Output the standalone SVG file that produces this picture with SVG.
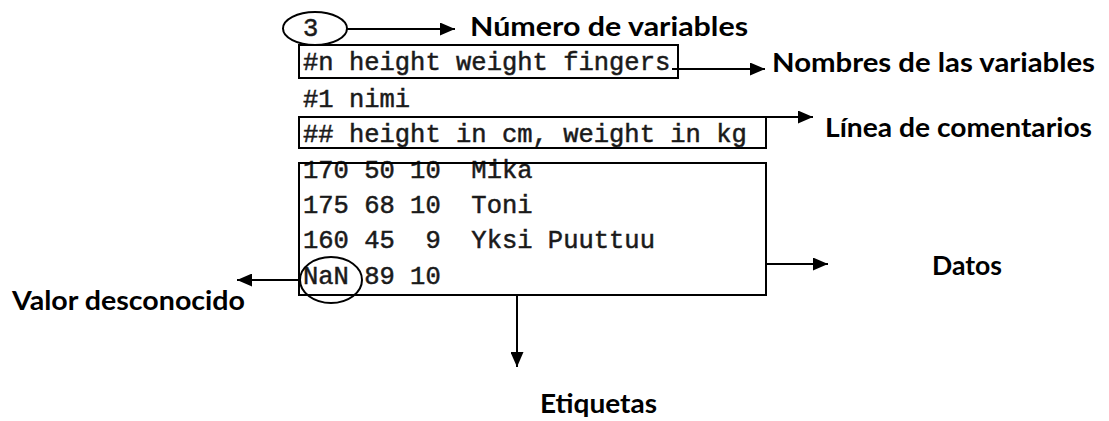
<svg xmlns="http://www.w3.org/2000/svg" width="1109" height="421" viewBox="0 0 1109 421">
<style>
.code{font-family:"Liberation Mono","DejaVu Sans Mono",monospace;font-size:25.5px;fill:#1a1a1a;stroke:#1a1a1a;stroke-width:0.5px;}
.lab{font-family:Lato,"Open Sans","Liberation Sans",sans-serif;font-weight:bold;font-size:26px;fill:#000;}
.box{fill:none;stroke:#000;stroke-width:2;}
.conn line{stroke:#000;stroke-width:2;}
</style>
<defs>
<marker id="ah" viewBox="0 0 15 13" refX="15" refY="6.5" markerWidth="15" markerHeight="13" markerUnits="userSpaceOnUse" orient="auto">
<path d="M0,0 L15,6.5 L0,13 Z" fill="#000"/>
</marker>
</defs>
<rect width="1109" height="421" fill="#fff"/>
<g id="code">
<text class="code" x="303" y="36">3</text>
<text class="code" x="303" y="70">#n height weight fingers</text>
<text class="code" x="303" y="107">#1 nimi</text>
<text class="code" x="303" y="142">## height in cm, weight in kg</text>
<text class="code" x="303" y="178" xml:space="preserve">170 50 10  Mika</text>
<text class="code" x="303" y="213" xml:space="preserve">175 68 10  Toni</text>
<text class="code" x="303" y="248" xml:space="preserve">160 45  9  Yksi Puuttuu</text>
<text class="code" x="303" y="284">NaN 89 10</text>
</g>
<g id="n_count"><ellipse class="box" cx="315" cy="28.5" rx="32" ry="16.5"/></g>
<g id="n_names"><rect class="box" x="299" y="45" width="379" height="33"/></g>
<g id="n_comment"><rect class="box" x="299" y="117" width="467" height="31"/></g>
<g id="n_data"><rect class="box" x="299" y="163" width="467" height="132"/></g>
<g id="n_nan"><ellipse class="box" cx="331" cy="280" rx="31" ry="23"/></g>
<g id="labels">
<text class="lab" x="470" y="36" textLength="278" lengthAdjust="spacingAndGlyphs">Número de variables</text>
<text class="lab" x="772" y="72" textLength="323" lengthAdjust="spacingAndGlyphs">Nombres de las variables</text>
<text class="lab" x="825" y="137" textLength="267" lengthAdjust="spacingAndGlyphs">Línea de comentarios</text>
<text class="lab" x="932" y="275" textLength="70" lengthAdjust="spacingAndGlyphs">Datos</text>
<text class="lab" x="12" y="310" textLength="233" lengthAdjust="spacingAndGlyphs">Valor desconocido</text>
<text class="lab" x="540" y="413" textLength="117" lengthAdjust="spacingAndGlyphs">Etiquetas</text>
</g>
<g id="connectors" class="conn">
<line x1="347" y1="29" x2="455" y2="29" marker-end="url(#ah)"/>
<line x1="672" y1="69" x2="765" y2="69" marker-end="url(#ah)"/>
<line x1="766" y1="117" x2="813" y2="117" marker-end="url(#ah)"/>
<line x1="766" y1="264" x2="828" y2="264" marker-end="url(#ah)"/>
<line x1="517" y1="295" x2="517" y2="367" marker-end="url(#ah)"/>
<line x1="300" y1="280" x2="237" y2="280" marker-end="url(#ah)"/>
</g>
</svg>
